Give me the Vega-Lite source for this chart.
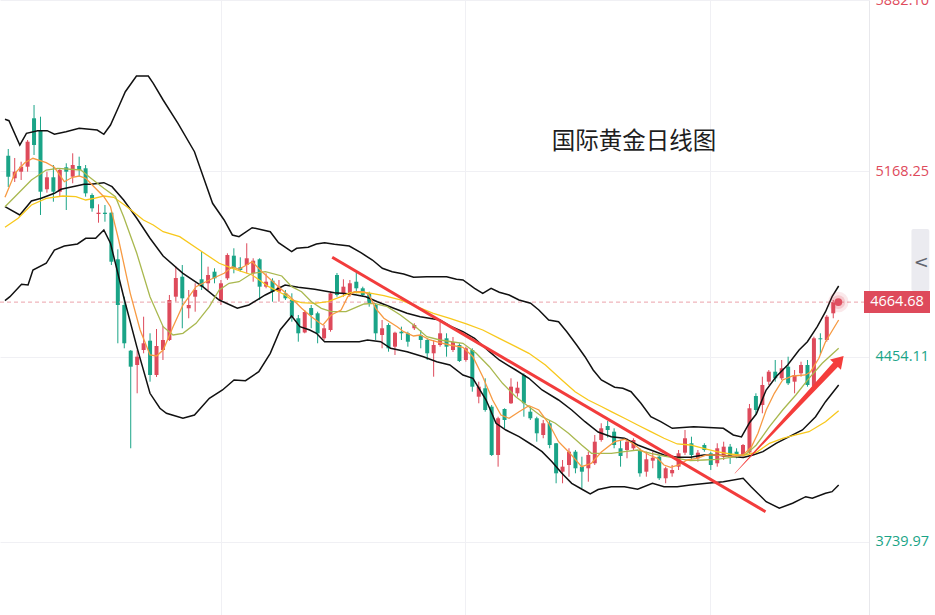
{
  "$schema": "https://vega.github.io/schema/vega-lite/v6.json",
  "width": 869,
  "height": 615,
  "autosize": {"type": "none"},
  "padding": {"left": 0, "top": 0, "right": 66, "bottom": 0},
  "background": "white",
  "config": {"view": {"stroke": null}, "font": "Open Sans"},
  "resolve": {"axis": {"x": "independent", "y": "independent"}},
  "datasets": {
    "candles": [
      {"i":1,"o":5229.2,"h":5255.0,"l":5108.5,"c":5148.2},
      {"i":2,"o":5142.1,"h":5220.3,"l":5127.8,"c":5167.5},
      {"i":3,"o":5167.5,"h":5206.0,"l":5135.5,"c":5186.8},
      {"i":4,"o":5186.8,"h":5289.7,"l":5167.5,"c":5283.1},
      {"i":5,"o":5373.4,"h":5424.6,"l":5231.9,"c":5270.4},
      {"i":6,"o":5328.2,"h":5379.5,"l":5000.6,"c":5090.4},
      {"i":7,"o":5099.7,"h":5167.5,"l":5086.5,"c":5145.9},
      {"i":8,"o":5145.9,"h":5193.3,"l":5051.8,"c":5090.4},
      {"i":9,"o":5090.4,"h":5181.8,"l":5071.1,"c":5174.0},
      {"i":10,"o":5184.5,"h":5199.9,"l":5019.8,"c":5167.5},
      {"i":11,"o":5148.2,"h":5238.4,"l":5122.8,"c":5193.3},
      {"i":12,"o":5189.5,"h":5225.3,"l":5148.2,"c":5174.0},
      {"i":13,"o":5180.6,"h":5193.3,"l":5071.1,"c":5084.2},
      {"i":14,"o":5077.7,"h":5084.2,"l":5013.3,"c":5026.4},
      {"i":15,"o":5004.4,"h":5041.8,"l":4970.9,"c":5009.4},
      {"i":16,"o":5009.4,"h":5039.1,"l":4974.7,"c":5004.4},
      {"i":17,"o":5009.4,"h":5013.3,"l":4807.8,"c":4820.5},
      {"i":18,"o":4829.8,"h":4868.3,"l":4506.0,"c":4653.6},
      {"i":19,"o":4653.6,"h":4685.6,"l":4486.7,"c":4506.0},
      {"i":20,"o":4477.5,"h":4480.1,"l":4101.2,"c":4415.8},
      {"i":21,"o":4422.3,"h":4480.1,"l":4313.2,"c":4454.3},
      {"i":22,"o":4480.1,"h":4608.5,"l":4467.4,"c":4506.0},
      {"i":23,"o":4516.0,"h":4544.5,"l":4358.0,"c":4383.8},
      {"i":24,"o":4383.8,"h":4561.1,"l":4376.1,"c":4495.6},
      {"i":25,"o":4480.1,"h":4572.7,"l":4441.6,"c":4518.7},
      {"i":26,"o":4518.7,"h":4692.2,"l":4514.9,"c":4672.9},
      {"i":27,"o":4685.6,"h":4801.3,"l":4666.3,"c":4757.7},
      {"i":28,"o":4762.7,"h":4807.8,"l":4563.8,"c":4679.4},
      {"i":29,"o":4640.9,"h":4711.4,"l":4602.4,"c":4653.6},
      {"i":30,"o":4685.6,"h":4737.3,"l":4627.8,"c":4711.4},
      {"i":31,"o":4752.7,"h":4859.1,"l":4711.4,"c":4724.2},
      {"i":32,"o":4737.3,"h":4801.3,"l":4711.4,"c":4769.3},
      {"i":33,"o":4782.0,"h":4795.1,"l":4737.3,"c":4756.5},
      {"i":34,"o":4672.9,"h":4750.0,"l":4653.6,"c":4737.3},
      {"i":35,"o":4756.5,"h":4852.9,"l":4750.0,"c":4846.4},
      {"i":36,"o":4843.7,"h":4872.2,"l":4775.8,"c":4795.1},
      {"i":37,"o":4799.0,"h":4837.5,"l":4782.0,"c":4788.5},
      {"i":38,"o":4807.8,"h":4891.5,"l":4775.8,"c":4833.7},
      {"i":39,"o":4775.8,"h":4833.7,"l":4743.4,"c":4824.4},
      {"i":40,"o":4829.8,"h":4833.7,"l":4672.9,"c":4724.2},
      {"i":41,"o":4724.2,"h":4775.8,"l":4718.0,"c":4743.4},
      {"i":42,"o":4747.3,"h":4756.5,"l":4666.3,"c":4704.9},
      {"i":43,"o":4704.9,"h":4750.0,"l":4666.3,"c":4724.2},
      {"i":44,"o":4698.7,"h":4711.4,"l":4672.9,"c":4679.4},
      {"i":45,"o":4672.9,"h":4698.7,"l":4589.2,"c":4608.5},
      {"i":46,"o":4602.4,"h":4615.1,"l":4512.1,"c":4544.5},
      {"i":47,"o":4547.6,"h":4634.3,"l":4544.5,"c":4626.6},
      {"i":48,"o":4642.1,"h":4653.6,"l":4563.8,"c":4615.1},
      {"i":49,"o":4621.6,"h":4627.8,"l":4506.0,"c":4544.5},
      {"i":50,"o":4525.2,"h":4576.5,"l":4518.7,"c":4563.8},
      {"i":51,"o":4557.2,"h":4704.9,"l":4550.7,"c":4698.7},
      {"i":52,"o":4769.3,"h":4777.0,"l":4685.6,"c":4692.2},
      {"i":53,"o":4698.7,"h":4752.7,"l":4685.6,"c":4724.2},
      {"i":54,"o":4692.2,"h":4750.0,"l":4685.6,"c":4737.3},
      {"i":55,"o":4743.4,"h":4782.0,"l":4698.7,"c":4718.0},
      {"i":56,"o":4718.0,"h":4724.2,"l":4685.6,"c":4692.2},
      {"i":57,"o":4698.7,"h":4704.9,"l":4647.1,"c":4660.2},
      {"i":58,"o":4653.6,"h":4660.2,"l":4518.7,"c":4544.5},
      {"i":59,"o":4538.0,"h":4595.8,"l":4486.7,"c":4563.8},
      {"i":60,"o":4576.5,"h":4583.1,"l":4473.6,"c":4486.7},
      {"i":61,"o":4492.9,"h":4550.7,"l":4460.9,"c":4546.8},
      {"i":62,"o":4550.7,"h":4570.0,"l":4518.7,"c":4544.5},
      {"i":63,"o":4544.5,"h":4550.7,"l":4492.9,"c":4512.1},
      {"i":64,"o":4563.8,"h":4583.1,"l":4557.2,"c":4576.5},
      {"i":65,"o":4538.0,"h":4557.2,"l":4486.7,"c":4518.7},
      {"i":66,"o":4518.7,"h":4525.2,"l":4441.6,"c":4467.4},
      {"i":67,"o":4467.4,"h":4518.7,"l":4377.2,"c":4499.4},
      {"i":68,"o":4499.4,"h":4589.2,"l":4492.9,"c":4544.5},
      {"i":69,"o":4525.2,"h":4544.5,"l":4454.3,"c":4492.9},
      {"i":70,"o":4480.1,"h":4530.3,"l":4472.4,"c":4511.0},
      {"i":71,"o":4499.4,"h":4506.0,"l":4433.9,"c":4437.7},
      {"i":72,"o":4441.6,"h":4492.9,"l":4435.0,"c":4486.7},
      {"i":73,"o":4480.1,"h":4486.7,"l":4319.4,"c":4338.7},
      {"i":74,"o":4300.1,"h":4358.0,"l":4274.7,"c":4338.7},
      {"i":75,"o":4332.5,"h":4371.0,"l":4242.3,"c":4248.8},
      {"i":76,"o":4261.6,"h":4268.1,"l":4071.5,"c":4075.4},
      {"i":77,"o":4075.4,"h":4223.0,"l":4030.3,"c":4216.9},
      {"i":78,"o":4252.7,"h":4255.4,"l":4178.3,"c":4210.3},
      {"i":79,"o":4274.7,"h":4371.0,"l":4272.0,"c":4338.7},
      {"i":80,"o":4313.2,"h":4358.0,"l":4300.1,"c":4334.8},
      {"i":81,"o":4383.8,"h":4390.3,"l":4223.0,"c":4274.7},
      {"i":82,"o":4242.3,"h":4261.6,"l":4210.3,"c":4216.9},
      {"i":83,"o":4216.9,"h":4223.0,"l":4126.6,"c":4159.0},
      {"i":84,"o":4152.5,"h":4210.3,"l":4139.8,"c":4197.6},
      {"i":85,"o":4197.6,"h":4210.3,"l":4101.2,"c":4113.9},
      {"i":86,"o":4120.5,"h":4121.6,"l":3966.3,"c":4004.8},
      {"i":87,"o":4011.0,"h":4056.1,"l":3966.3,"c":4030.3},
      {"i":88,"o":4036.8,"h":4101.2,"l":3991.7,"c":4088.1},
      {"i":89,"o":4088.1,"h":4094.6,"l":4004.8,"c":4024.1},
      {"i":90,"o":4030.3,"h":4068.8,"l":3947.0,"c":4011.0},
      {"i":91,"o":4024.1,"h":4088.1,"l":3972.4,"c":4075.4},
      {"i":92,"o":4043.4,"h":4152.5,"l":4036.8,"c":4126.6},
      {"i":93,"o":4133.2,"h":4197.6,"l":4126.6,"c":4178.3},
      {"i":94,"o":4187.2,"h":4206.4,"l":4142.8,"c":4171.7},
      {"i":95,"o":4165.2,"h":4178.3,"l":4101.2,"c":4113.9},
      {"i":96,"o":4101.2,"h":4133.2,"l":4030.3,"c":4071.5},
      {"i":97,"o":4094.6,"h":4139.8,"l":4062.7,"c":4126.6},
      {"i":98,"o":4101.2,"h":4139.8,"l":4094.6,"c":4133.2},
      {"i":99,"o":4094.6,"h":4101.2,"l":3991.7,"c":4004.8},
      {"i":100,"o":4011.0,"h":4088.1,"l":3991.7,"c":4058.8},
      {"i":101,"o":4053.4,"h":4088.1,"l":4024.1,"c":4065.0},
      {"i":102,"o":4068.8,"h":4075.4,"l":3979.0,"c":3985.6},
      {"i":103,"o":3985.6,"h":4030.3,"l":3966.3,"c":4024.1},
      {"i":104,"o":4004.8,"h":4036.8,"l":3991.7,"c":4017.5},
      {"i":105,"o":4030.3,"h":4094.6,"l":4017.5,"c":4081.9},
      {"i":106,"o":4084.2,"h":4171.7,"l":4075.4,"c":4139.8},
      {"i":107,"o":4120.5,"h":4145.9,"l":4056.1,"c":4075.4},
      {"i":108,"o":4062.7,"h":4094.6,"l":4049.5,"c":4084.2},
      {"i":109,"o":4113.9,"h":4120.5,"l":4088.1,"c":4094.6},
      {"i":110,"o":4081.9,"h":4088.1,"l":4017.5,"c":4036.8},
      {"i":111,"o":4043.4,"h":4120.5,"l":4030.3,"c":4101.2},
      {"i":112,"o":4068.8,"h":4126.6,"l":4056.1,"c":4107.4},
      {"i":113,"o":4107.4,"h":4117.8,"l":4040.7,"c":4063.8},
      {"i":114,"o":4088.1,"h":4101.2,"l":4062.7,"c":4075.4},
      {"i":115,"o":4075.4,"h":4117.8,"l":4068.8,"c":4113.9},
      {"i":116,"o":4085.0,"h":4272.0,"l":4079.2,"c":4255.4},
      {"i":117,"o":4302.8,"h":4313.2,"l":4233.4,"c":4248.8},
      {"i":118,"o":4268.1,"h":4377.2,"l":4236.1,"c":4345.2},
      {"i":119,"o":4358.0,"h":4403.0,"l":4345.2,"c":4396.5},
      {"i":120,"o":4396.5,"h":4441.6,"l":4358.0,"c":4371.0},
      {"i":121,"o":4371.0,"h":4441.6,"l":4364.5,"c":4409.6},
      {"i":122,"o":4415.8,"h":4454.3,"l":4345.2,"c":4351.8},
      {"i":123,"o":4358.0,"h":4403.0,"l":4313.2,"c":4383.8},
      {"i":124,"o":4390.3,"h":4435.0,"l":4377.2,"c":4422.3},
      {"i":125,"o":4422.3,"h":4441.6,"l":4338.7,"c":4345.2},
      {"i":126,"o":4338.7,"h":4531.4,"l":4332.5,"c":4525.2},
      {"i":127,"o":4525.2,"h":4544.5,"l":4460.9,"c":4521.4},
      {"i":128,"o":4518.7,"h":4615.1,"l":4512.1,"c":4608.5},
      {"i":129,"o":4621.6,"h":4672.9,"l":4602.4,"c":4664.68}
    ],
    "upper": [
      {"i":0.49,"p":5369.5},{"i":1.11,"p":5364.1},{"i":2.79,"p":5270.4},{"i":3.82,"p":5315.5},{"i":5.56,"p":5325.6},
      {"i":7.04,"p":5325.6},{"i":8.16,"p":5311.7},{"i":9.96,"p":5321.7},{"i":12.0,"p":5334.8},{"i":14.8,"p":5328.2},
      {"i":15.83,"p":5311.7},{"i":16.86,"p":5347.5},{"i":18.13,"p":5418.1},{"i":19.16,"p":5475.9},{"i":20.89,"p":5536.4},
      {"i":22.73,"p":5536.4},{"i":23.5,"p":5508.3},{"i":25.03,"p":5443.9},{"i":27.33,"p":5354.1},{"i":29.89,"p":5244.6},
      {"i":31.43,"p":5135.5},{"i":32.7,"p":5045.7},{"i":34.49,"p":4981.3},{"i":35.77,"p":4923.5},{"i":36.8,"p":4916.9},
      {"i":38.84,"p":4951.6},{"i":41.65,"p":4936.2},{"i":42.93,"p":4893.8},{"i":44.97,"p":4859.1},{"i":45.74,"p":4872.2},
      {"i":47.53,"p":4876.1},{"i":48.81,"p":4888.8},{"i":50.08,"p":4893.8},{"i":51.61,"p":4887.6},{"i":53.91,"p":4881.1},
      {"i":55.71,"p":4855.2},{"i":57.5,"p":4827.1},{"i":59.04,"p":4795.1},{"i":60.57,"p":4782.0},{"i":62.35,"p":4773.1},
      {"i":63.88,"p":4760.4},{"i":65.94,"p":4762.7},{"i":69.01,"p":4762.7},{"i":70.54,"p":4752.7},{"i":71.55,"p":4750.0},
      {"i":73.35,"p":4718.0},{"i":74.62,"p":4698.7},{"i":75.91,"p":4718.0},{"i":77.18,"p":4702.6},{"i":78.71,"p":4692.2},
      {"i":80.25,"p":4672.9},{"i":82.04,"p":4660.2},{"i":83.32,"p":4634.3},{"i":84.85,"p":4595.8},{"i":86.38,"p":4589.2},
      {"i":87.66,"p":4550.7},{"i":89.19,"p":4499.4},{"i":90.48,"p":4454.3},{"i":91.75,"p":4403.0},{"i":93.02,"p":4364.5},
      {"i":95.08,"p":4336.4},{"i":96.35,"p":4332.5},{"i":97.63,"p":4319.4},{"i":99.16,"p":4274.7},{"i":100.69,"p":4223.0},
      {"i":102.23,"p":4203.7},{"i":104.02,"p":4178.3},{"i":107.35,"p":4184.5},{"i":111.95,"p":4178.3},{"i":113.49,"p":4152.5},
      {"i":114.76,"p":4144.8},{"i":116.03,"p":4200.7},{"i":117.06,"p":4233.4},{"i":118.59,"p":4325.9},{"i":120.13,"p":4377.2},
      {"i":121.92,"p":4422.3},{"i":123.7,"p":4480.1},{"i":124.99,"p":4512.1},{"i":126.52,"p":4570.0},{"i":127.8,"p":4627.8},
      {"i":128.82,"p":4685.6},{"i":129.84,"p":4726.9}
    ],
    "middle": [
      {"i":0.49,"p":5032.6},{"i":2.79,"p":5000.6},{"i":4.59,"p":5054.5},{"i":6.12,"p":5064.9},{"i":8.16,"p":5084.2},
      {"i":9.19,"p":5099.7},{"i":12.76,"p":5118.9},{"i":13.79,"p":5118.9},{"i":15.83,"p":5125.1},{"i":17.1,"p":5109.7},
      {"i":18.9,"p":5058.4},{"i":20.94,"p":4987.9},{"i":22.99,"p":4910.8},{"i":25.03,"p":4842.5},{"i":28.1,"p":4775.8},
      {"i":31.17,"p":4724.2},{"i":33.73,"p":4672.9},{"i":36.54,"p":4640.9},{"i":38.33,"p":4653.6},{"i":40.88,"p":4692.2},
      {"i":43.95,"p":4730.7},{"i":46.0,"p":4721.8},{"i":48.55,"p":4714.1},{"i":51.61,"p":4701.0},{"i":54.18,"p":4696.0},
      {"i":56.48,"p":4685.6},{"i":58.27,"p":4666.3},{"i":60.82,"p":4640.9},{"i":62.87,"p":4621.6},{"i":64.91,"p":4608.5},
      {"i":67.98,"p":4595.8},{"i":69.51,"p":4572.7},{"i":71.55,"p":4550.7},{"i":73.35,"p":4525.2},{"i":75.65,"p":4473.6},
      {"i":77.18,"p":4441.6},{"i":79.74,"p":4403.0},{"i":81.78,"p":4371.0},{"i":83.82,"p":4325.9},{"i":86.38,"p":4287.4},
      {"i":88.42,"p":4248.8},{"i":90.48,"p":4203.7},{"i":92.52,"p":4164.0},{"i":94.56,"p":4145.9},{"i":96.61,"p":4139.8},
      {"i":98.65,"p":4113.9},{"i":100.69,"p":4094.6},{"i":102.74,"p":4075.4},{"i":104.79,"p":4066.5},{"i":106.83,"p":4066.5},
      {"i":108.88,"p":4075.4},{"i":110.92,"p":4075.4},{"i":112.96,"p":4070.4},{"i":115.02,"p":4065.7},{"i":116.55,"p":4075.4},
      {"i":118.09,"p":4088.1},{"i":120.13,"p":4120.5},{"i":122.17,"p":4145.9},{"i":124.22,"p":4171.7},{"i":126.26,"p":4223.0},
      {"i":127.8,"p":4280.8},{"i":129.84,"p":4345.2}
    ],
    "lower": [
      {"i":0.49,"p":4670.2},{"i":1.26,"p":4685.6},{"i":3.06,"p":4733.4},{"i":4.07,"p":4730.7},{"i":4.83,"p":4788.5},
      {"i":6.89,"p":4814.4},{"i":8.16,"p":4865.6},{"i":9.7,"p":4881.1},{"i":11.74,"p":4888.8},{"i":13.02,"p":4910.8},
      {"i":14.56,"p":4910.8},{"i":15.83,"p":4942.7},{"i":16.86,"p":4891.5},{"i":18.9,"p":4685.6},{"i":20.94,"p":4492.9},
      {"i":22.99,"p":4313.2},{"i":24.53,"p":4255.4},{"i":25.54,"p":4236.1},{"i":28.1,"p":4216.9},{"i":29.89,"p":4229.6},
      {"i":32.2,"p":4294.0},{"i":34.24,"p":4325.9},{"i":36.03,"p":4364.5},{"i":37.81,"p":4361.8},{"i":39.87,"p":4396.5},
      {"i":41.65,"p":4467.4},{"i":43.18,"p":4557.2},{"i":44.97,"p":4611.2},{"i":46.25,"p":4570.0},{"i":47.78,"p":4557.2},
      {"i":48.81,"p":4544.5},{"i":50.08,"p":4512.1},{"i":53.15,"p":4512.1},{"i":55.45,"p":4512.1},{"i":56.74,"p":4518.7},
      {"i":58.78,"p":4512.1},{"i":60.31,"p":4486.7},{"i":62.87,"p":4473.6},{"i":65.42,"p":4454.3},{"i":67.47,"p":4435.0},
      {"i":69.51,"p":4422.3},{"i":71.55,"p":4383.8},{"i":73.09,"p":4371.0},{"i":75.14,"p":4287.4},{"i":76.68,"p":4197.6},
      {"i":78.21,"p":4171.7},{"i":80.25,"p":4145.9},{"i":82.29,"p":4113.9},{"i":83.82,"p":4088.1},{"i":85.36,"p":4049.5},
      {"i":86.89,"p":4004.8},{"i":88.42,"p":3966.3},{"i":90.22,"p":3940.4},{"i":91.29,"p":3925.0},{"i":92.52,"p":3942.4},
      {"i":94.56,"p":3953.2},{"i":96.61,"p":3953.2},{"i":98.65,"p":3943.1},{"i":100.95,"p":3966.3},{"i":102.74,"p":3953.2},
      {"i":104.79,"p":3953.2},{"i":106.83,"p":3959.7},{"i":109.39,"p":3966.3},{"i":111.95,"p":3972.4},{"i":115.02,"p":3985.6},
      {"i":116.29,"p":3952.0},{"i":118.59,"p":3895.3},{"i":120.63,"p":3869.9},{"i":122.69,"p":3889.2},{"i":124.73,"p":3914.6},
      {"i":125.75,"p":3908.5},{"i":127.8,"p":3927.7},{"i":128.82,"p":3933.9},{"i":129.84,"p":3959.7}
    ],
    "ma5": [
      {"i":0.49,"p":5068.8},{"i":2.03,"p":5161.3},{"i":3.56,"p":5202.2},{"i":4.83,"p":5219.2},{"i":6.89,"p":5202.2},
      {"i":8.16,"p":5184.5},{"i":9.7,"p":5128.9},{"i":10.97,"p":5145.9},{"i":12.0,"p":5150.9},{"i":13.02,"p":5142.1},
      {"i":14.3,"p":5109.7},{"i":15.83,"p":5071.1},{"i":16.86,"p":5032.6},{"i":18.13,"p":4904.2},{"i":19.93,"p":4698.7},
      {"i":21.46,"p":4557.2},{"i":22.99,"p":4460.9},{"i":24.01,"p":4457.0},{"i":25.03,"p":4480.1},{"i":26.57,"p":4570.0},
      {"i":28.1,"p":4653.6},{"i":30.14,"p":4724.2},{"i":32.2,"p":4750.0},{"i":34.49,"p":4775.8},{"i":35.77,"p":4801.3},
      {"i":36.8,"p":4791.2},{"i":38.84,"p":4820.5},{"i":40.37,"p":4782.0},{"i":42.93,"p":4724.2},{"i":44.97,"p":4679.4},
      {"i":46.51,"p":4640.9},{"i":48.04,"p":4608.5},{"i":49.07,"p":4589.2},{"i":49.83,"p":4576.5},{"i":51.11,"p":4615.1},
      {"i":52.64,"p":4634.3},{"i":53.67,"p":4685.6},{"i":54.68,"p":4704.9},{"i":56.21,"p":4704.9},{"i":56.98,"p":4692.2},
      {"i":58.01,"p":4640.9},{"i":59.28,"p":4602.4},{"i":61.34,"p":4570.0},{"i":62.35,"p":4550.7},{"i":63.88,"p":4534.1},
      {"i":64.91,"p":4538.0},{"i":66.44,"p":4518.7},{"i":67.98,"p":4508.3},{"i":69.51,"p":4499.4},{"i":71.55,"p":4490.6},
      {"i":73.09,"p":4454.3},{"i":74.62,"p":4377.2},{"i":76.15,"p":4287.4},{"i":77.44,"p":4229.6},{"i":78.71,"p":4216.9},
      {"i":80.25,"p":4242.3},{"i":81.78,"p":4265.4},{"i":83.32,"p":4248.8},{"i":84.85,"p":4197.6},{"i":86.38,"p":4126.6},
      {"i":87.92,"p":4088.1},{"i":89.96,"p":4030.3},{"i":91.49,"p":4043.4},{"i":93.02,"p":4086.9},{"i":95.08,"p":4126.6},
      {"i":96.61,"p":4135.9},{"i":97.89,"p":4120.5},{"i":99.16,"p":4094.6},{"i":100.45,"p":4075.4},{"i":101.72,"p":4062.7},
      {"i":102.74,"p":4036.8},{"i":103.76,"p":4027.9},{"i":105.05,"p":4036.8},{"i":106.32,"p":4056.1},{"i":107.86,"p":4062.7},
      {"i":109.39,"p":4075.4},{"i":110.92,"p":4075.4},{"i":112.96,"p":4070.4},{"i":115.02,"p":4075.4},{"i":116.29,"p":4106.2},
      {"i":117.32,"p":4159.0},{"i":118.59,"p":4248.8},{"i":119.86,"p":4313.2},{"i":121.15,"p":4364.5},{"i":122.69,"p":4379.9},
      {"i":124.73,"p":4383.8},{"i":125.49,"p":4396.5},{"i":126.77,"p":4448.2},{"i":127.8,"p":4512.1},{"i":129.84,"p":4595.8}
    ],
    "ma10": [
      {"i":0.49,"p":5032.6},{"i":2.03,"p":5071.1},{"i":4.59,"p":5135.5},{"i":6.89,"p":5174.0},{"i":8.67,"p":5180.6},
      {"i":12.26,"p":5174.0},{"i":13.53,"p":5148.2},{"i":15.83,"p":5103.5},{"i":17.63,"p":5071.1},{"i":18.9,"p":4994.0},
      {"i":20.94,"p":4852.9},{"i":22.99,"p":4685.6},{"i":25.03,"p":4570.0},{"i":26.57,"p":4538.0},{"i":28.1,"p":4544.5},
      {"i":30.14,"p":4583.1},{"i":32.2,"p":4647.1},{"i":33.73,"p":4711.4},{"i":35.26,"p":4737.3},{"i":36.8,"p":4743.4},
      {"i":38.84,"p":4775.8},{"i":40.88,"p":4782.0},{"i":43.44,"p":4765.4},{"i":44.97,"p":4724.2},{"i":46.51,"p":4704.9},
      {"i":48.04,"p":4666.3},{"i":49.57,"p":4640.9},{"i":51.11,"p":4627.8},{"i":53.41,"p":4627.8},{"i":54.94,"p":4644.7},
      {"i":56.21,"p":4657.5},{"i":57.75,"p":4660.2},{"i":59.8,"p":4647.1},{"i":61.84,"p":4615.1},{"i":63.88,"p":4576.5},
      {"i":65.94,"p":4531.4},{"i":67.98,"p":4518.7},{"i":70.02,"p":4511.0},{"i":71.55,"p":4506.0},{"i":73.61,"p":4467.4},
      {"i":75.65,"p":4415.8},{"i":77.69,"p":4351.8},{"i":79.74,"p":4300.1},{"i":81.78,"p":4261.6},{"i":83.82,"p":4223.0},
      {"i":85.88,"p":4197.6},{"i":87.92,"p":4159.0},{"i":89.96,"p":4113.9},{"i":91.49,"p":4081.9},{"i":94.56,"p":4081.9},
      {"i":96.61,"p":4088.1},{"i":98.65,"p":4094.6},{"i":100.69,"p":4081.9},{"i":102.74,"p":4071.5},{"i":104.79,"p":4062.7},
      {"i":106.83,"p":4053.4},{"i":108.88,"p":4056.1},{"i":110.92,"p":4058.8},{"i":113.99,"p":4068.8},{"i":115.52,"p":4079.2},
      {"i":117.06,"p":4113.9},{"i":119.1,"p":4184.5},{"i":121.15,"p":4248.8},{"i":123.19,"p":4306.7},{"i":125.23,"p":4371.0},
      {"i":127.29,"p":4428.8},{"i":129.84,"p":4486.7}
    ],
    "ma20": [
      {"i":0.49,"p":4953.2},{"i":2.53,"p":4987.9},{"i":4.59,"p":5039.1},{"i":6.89,"p":5064.9},{"i":9.44,"p":5073.8},
      {"i":11.49,"p":5071.1},{"i":13.02,"p":5058.4},{"i":14.3,"p":5064.9},{"i":15.83,"p":5073.8},{"i":17.37,"p":5068.8},
      {"i":19.41,"p":5032.6},{"i":21.97,"p":4981.3},{"i":23.5,"p":4962.0},{"i":25.03,"p":4936.2},{"i":27.6,"p":4916.9},
      {"i":30.66,"p":4865.6},{"i":33.73,"p":4814.4},{"i":35.77,"p":4795.1},{"i":38.84,"p":4769.3},{"i":41.4,"p":4724.2},
      {"i":43.95,"p":4692.2},{"i":44.97,"p":4672.9},{"i":46.51,"p":4662.5},{"i":48.55,"p":4660.2},{"i":50.6,"p":4666.3},
      {"i":52.64,"p":4685.6},{"i":54.18,"p":4702.6},{"i":56.74,"p":4701.0},{"i":59.28,"p":4689.5},{"i":61.84,"p":4672.9},
      {"i":64.4,"p":4647.1},{"i":66.95,"p":4621.6},{"i":69.51,"p":4602.4},{"i":72.07,"p":4580.4},{"i":74.62,"p":4557.2},
      {"i":77.18,"p":4525.2},{"i":79.74,"p":4492.9},{"i":81.78,"p":4467.4},{"i":84.34,"p":4422.3},{"i":86.89,"p":4364.5},
      {"i":88.95,"p":4319.4},{"i":90.98,"p":4287.4},{"i":93.02,"p":4262.3},{"i":94.56,"p":4242.3},{"i":96.61,"p":4216.9},
      {"i":98.65,"p":4191.0},{"i":100.69,"p":4165.2},{"i":102.74,"p":4139.8},{"i":104.79,"p":4117.8},{"i":106.83,"p":4113.9},
      {"i":108.88,"p":4101.2},{"i":110.92,"p":4088.1},{"i":112.96,"p":4079.2},{"i":115.02,"p":4073.4},{"i":117.06,"p":4085.0},
      {"i":119.1,"p":4120.5},{"i":121.15,"p":4139.8},{"i":123.19,"p":4152.5},{"i":125.23,"p":4165.2},{"i":127.8,"p":4203.7},
      {"i":129.84,"p":4246.2}
    ],
    "trend": [{"i":51.26,"p":4837.5},{"i":118.49,"p":3856.8}],
    "arrow": [{"i":113.73,"p":4004.8},{"i":129.33,"p":4422.7}],
    "last": [{"i":129.79,"p":4664.68,"label":"4664.68"}]
  },
  "layer": [
    {
      "data": {"name": "candles"},
      "mark": {"type": "rule", "strokeWidth": 1},
      "encoding": {
        "x": {
          "field": "i",
          "type": "quantitative",
          "scale": {"domain": [0.494, 133.77], "nice": false, "zero": false},
          "axis": {"values": [33.98, 71.81, 109.89], "grid": true, "gridColor": "#f0f0f4", "gridWidth": 1, "labels": false, "ticks": false, "domain": false, "title": null}
        },
        "y": {
          "field": "l",
          "type": "quantitative",
          "scale": {"domain": [3458.5, 5829.4], "nice": false, "zero": false},
          "axis": {
            "orient": "right",
            "values": [3739.97, 4454.11, 5168.25, 5827.5],
            "labelExpr": "datum.value > 5800 ? '5882.10' : format(datum.value, '.2f')",
            "labelColor": {"condition": {"test": "datum.value > 4664.68", "value": "#de4a5b"}, "value": "#1aa487"},
            "labelFont": "Open Sans",
            "labelFontSize": 14.5,
            "labelPadding": 6,
            "labelOverlap": false,
            "labelFlush": false,
            "labelBound": false,
            "ticks": false,
            "domain": true,
            "domainColor": "#e8e8ec",
            "grid": true,
            "gridColor": "#f0f0f4",
            "title": null
          }
        },
        "y2": {"field": "h"},
        "color": {"condition": {"test": "datum.c >= datum.o", "value": "#de4a5b"}, "value": "#1aa487"}
      }
    },
    {
      "data": {"name": "candles"},
      "mark": {"type": "bar", "width": 4},
      "encoding": {
        "x": {"field": "i", "type": "quantitative", "axis": null},
        "y": {"field": "o", "type": "quantitative", "axis": null},
        "y2": {"field": "c"},
        "color": {"condition": {"test": "datum.c >= datum.o", "value": "#de4a5b"}, "value": "#1aa487"}
      }
    },
    {
      "data": {"name": "last"},
      "mark": {"type": "rule", "color": "#eba2ab", "strokeWidth": 1, "strokeDash": [4, 3]},
      "encoding": {"x": {"value": 0}, "x2": {"value": 869}, "y": {"field": "p", "type": "quantitative", "axis": null}}
    },
    {
      "data": {"name": "upper"},
      "mark": {"type": "line", "color": "#111111", "strokeWidth": 1.5},
      "encoding": {"x": {"field": "i", "type": "quantitative", "axis": null}, "y": {"field": "p", "type": "quantitative", "axis": null}}
    },
    {
      "data": {"name": "middle"},
      "mark": {"type": "line", "color": "#111111", "strokeWidth": 1.5},
      "encoding": {"x": {"field": "i", "type": "quantitative", "axis": null}, "y": {"field": "p", "type": "quantitative", "axis": null}}
    },
    {
      "data": {"name": "lower"},
      "mark": {"type": "line", "color": "#111111", "strokeWidth": 1.5},
      "encoding": {"x": {"field": "i", "type": "quantitative", "axis": null}, "y": {"field": "p", "type": "quantitative", "axis": null}}
    },
    {
      "data": {"name": "ma20"},
      "mark": {"type": "line", "color": "#f8c81c", "strokeWidth": 1.3},
      "encoding": {"x": {"field": "i", "type": "quantitative", "axis": null}, "y": {"field": "p", "type": "quantitative", "axis": null}}
    },
    {
      "data": {"name": "ma10"},
      "mark": {"type": "line", "color": "#a9b84f", "strokeWidth": 1.3},
      "encoding": {"x": {"field": "i", "type": "quantitative", "axis": null}, "y": {"field": "p", "type": "quantitative", "axis": null}}
    },
    {
      "data": {"name": "ma5"},
      "mark": {"type": "line", "color": "#f79a42", "strokeWidth": 1.3},
      "encoding": {"x": {"field": "i", "type": "quantitative", "axis": null}, "y": {"field": "p", "type": "quantitative", "axis": null}}
    },
    {
      "data": {"name": "trend"},
      "mark": {"type": "line", "color": "#f23c3c", "strokeWidth": 3},
      "encoding": {"x": {"field": "i", "type": "quantitative", "axis": null}, "y": {"field": "p", "type": "quantitative", "axis": null}}
    },
    {
      "data": {"name": "arrow"},
      "mark": {"type": "trail", "color": "#f43d3b"},
      "encoding": {
        "x": {"field": "i", "type": "quantitative", "axis": null},
        "y": {"field": "p", "type": "quantitative", "axis": null},
        "size": {"field": "i", "type": "quantitative", "scale": {"domain": [113.73, 129.33], "range": [0.3, 6.5]}, "legend": null}
      }
    },
    {
      "data": {"values": [{"t": "head"}]},
      "mark": {"type": "point", "shape": "M0,-1L1,0.6L-1,0.6Z", "size": 221, "angle": 43, "filled": true, "color": "#f43d3b", "opacity": 1},
      "encoding": {"x": {"datum": 129.82, "axis": null}, "y": {"datum": 4436.2, "axis": null}}
    },
    {
      "data": {"name": "last"},
      "mark": {"type": "point", "filled": true, "color": "#de4a5b", "opacity": 0.12, "size": 420},
      "encoding": {"x": {"field": "i", "type": "quantitative", "axis": null}, "y": {"field": "p", "type": "quantitative", "axis": null}}
    },
    {
      "data": {"name": "last"},
      "mark": {"type": "point", "filled": true, "color": "#de4a5b", "opacity": 0.2, "size": 190},
      "encoding": {"x": {"field": "i", "type": "quantitative", "axis": null}, "y": {"field": "p", "type": "quantitative", "axis": null}}
    },
    {
      "data": {"name": "last"},
      "mark": {"type": "point", "filled": true, "color": "#de4a5b", "opacity": 0.95, "size": 60},
      "encoding": {"x": {"field": "i", "type": "quantitative", "axis": null}, "y": {"field": "p", "type": "quantitative", "axis": null}}
    },
    {
      "data": {"values": [{"t": "<"}]},
      "mark": {"type": "rect", "color": "#ebebf0", "clip": false, "cornerRadius": 2},
      "encoding": {
        "x": {"datum": 141.13, "axis": null},
        "x2": {"datum": 143.9},
        "y": {"datum": 4946.6, "axis": null},
        "y2": {"datum": 4707.6}
      }
    },
    {
      "data": {"values": [{"t": "<"}]},
      "mark": {"type": "text", "color": "#61656e", "fontSize": 18, "font": "DejaVu Sans", "align": "center", "baseline": "middle", "clip": false},
      "encoding": {
        "x": {"datum": 142.67, "axis": null},
        "y": {"datum": 4815.5, "axis": null},
        "text": {"field": "t"}
      }
    },
    {
      "data": {"name": "last"},
      "mark": {"type": "tick", "orient": "horizontal", "color": "#de4a5b", "size": 66, "thickness": 22, "opacity": 1, "clip": false},
      "encoding": {"x": {"datum": 138.89, "axis": null}, "y": {"field": "p", "type": "quantitative", "axis": null}}
    },
    {
      "data": {"name": "last"},
      "mark": {"type": "text", "color": "white", "fontSize": 14.5, "font": "Open Sans", "align": "center", "baseline": "middle", "clip": false},
      "encoding": {
        "x": {"datum": 138.89, "axis": null},
        "y": {"field": "p", "type": "quantitative", "axis": null},
        "text": {"field": "label"}
      }
    },
    {
      "data": {"values": [{"t": "国际黄金日线图"}]},
      "mark": {"type": "text", "font": "Noto Sans CJK SC", "fontSize": 23.5, "color": "#1e1e1e", "align": "center", "baseline": "middle"},
      "encoding": {
        "x": {"datum": 98.1, "axis": null},
        "y": {"datum": 5280.1, "axis": null},
        "text": {"field": "t"}
      }
    }
  ]
}
